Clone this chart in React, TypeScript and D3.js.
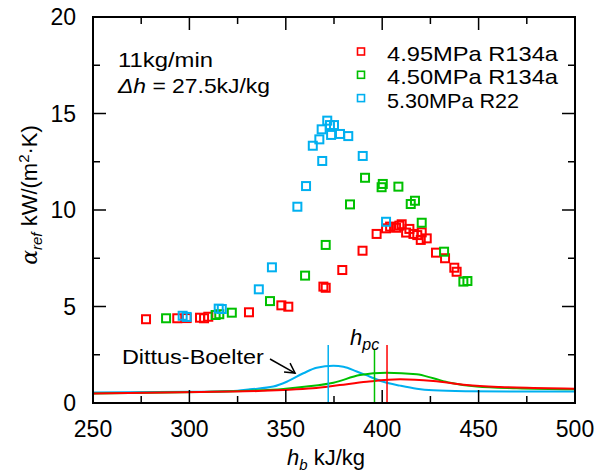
import React from 'react';
import * as d3 from 'd3';

// measured points, [h_b kJ/kg, alpha kW/(m2K)]
const red495: [number, number][] = [
  [277.5, 4.34], [293.7, 4.39], [298.6, 4.4], [305.5, 4.42], [307.6, 4.39], [309.8, 4.47],
  [330.9, 4.7], [347.7, 5.06], [351.3, 4.99], [369.5, 6.03], [370.7, 5.97], [379.3, 6.89],
  [389.8, 7.89], [397.1, 8.76], [402, 9.05], [404.1, 9.14], [407.2, 9.08], [408.9, 9.19],
  [410.1, 9.26], [412.4, 8.83], [414.1, 9.02], [416.2, 8.76], [418.2, 8.7], [420.5, 8.84],
  [420, 8.45], [423.1, 8.53], [427.9, 7.79], [432.6, 7.5], [437.4, 7.01], [438.6, 6.8],
];
const green450: [number, number][] = [
  [287.9, 4.39], [313.6, 4.56], [315.5, 4.6], [322, 4.68], [341.8, 5.28], [360, 6.6],
  [370.7, 8.19], [383.3, 10.29], [391.1, 11.67], [400.3, 11.35], [399.7, 11.18], [408.4, 11.21],
  [417, 10.48], [414.8, 10.31], [420.5, 9.34], [432.1, 7.84], [442.1, 6.29], [444.2, 6.32],
];
const blue530: [number, number][] = [
  [296.5, 4.52], [298.6, 4.46], [315.2, 4.89], [316.8, 4.87], [336, 5.89], [342.8, 7.03],
  [356, 10.17], [360.5, 11.24], [364, 13.33], [367.4, 13.66], [368.6, 14.18], [368.9, 12.54],
  [371.5, 14.63], [372.9, 14.4], [375, 14.4], [373.5, 13.89], [378.1, 13.94], [382.4, 13.83],
  [389.9, 12.8], [402, 9.39],
];

// Dittus-Boelter curves
const dbBlue: [number, number][] = [
  [250, 0.55], [300, 0.58], [325, 0.64], [331.4, 0.71], [343.5, 0.85], [350.5, 1.1],
  [359.1, 1.54], [366, 1.83], [374.7, 1.93], [379.9, 1.88], [386.8, 1.63], [393.7, 1.36],
  [400.6, 1.1], [409.3, 0.9], [417.9, 0.74], [426.5, 0.66], [443.8, 0.61], [470, 0.59], [500, 0.59],
];
const dbGreen: [number, number][] = [
  [250, 0.49], [305.5, 0.57], [331.4, 0.64], [348.7, 0.73], [360.8, 0.85], [374.7, 1.05],
  [388.5, 1.45], [402.3, 1.57], [417.9, 1.49], [426.5, 1.28], [435.2, 1.05], [449, 0.85],
  [469.8, 0.76], [500, 0.71],
];
const dbRed: [number, number][] = [
  [250, 0.49], [305.5, 0.57], [322.6, 0.59], [348.7, 0.67], [364, 0.76], [378, 0.93],
  [392, 1.1], [409.3, 1.23], [426.5, 1.14], [443.8, 0.93], [461, 0.83], [478.4, 0.78], [500, 0.74],
];

// pseudo-critical enthalpy markers [h, top]
const hpcLines = [
  { h: 372, top: 3.0, color: '#00b0f0' },
  { h: 396, top: 2.75, color: '#00c000' },
  { h: 402.5, top: 3.0, color: '#ff0000' },
];

const xTicks = [250, 300, 350, 400, 450, 500];
const xMinor = [275, 325, 375, 425, 475];
const yTicks = [0, 5, 10, 15, 20];
const yMinor = [2.5, 7.5, 12.5, 17.5];

const RED = '#ff0000';
const GREEN = '#00c000';
const BLUE = '#00b0f0';
const FONT = 'Liberation Sans, Arial, sans-serif';

const W = 606, H = 472;
const L = 93, R = 575, T = 17, B = 403;

export default function App() {
  const x = d3.scaleLinear().domain([250, 500]).range([L, R]);
  const y = d3.scaleLinear().domain([0, 20]).range([B, T]);
  const line = d3.line<[number, number]>().x((d) => x(d[0])).y((d) => y(d[1])).curve(d3.curveMonotoneX);

  const series = [
    { pts: red495, color: RED },
    { pts: green450, color: GREEN },
    { pts: blue530, color: BLUE },
  ];
  const legend = [
    { label: '4.95MPa R134a', color: RED },
    { label: '4.50MPa R134a', color: GREEN },
    { label: '5.30MPa R22', color: BLUE },
  ];
  const s = 8;

  return (
    <svg width={W} height={H} style={{ position: 'absolute', left: 0, top: 0, background: '#fff' }} fontFamily={FONT}>
      <defs>
        <clipPath id="plot"><rect x={L} y={T} width={R - L} height={B - T} /></clipPath>
      </defs>

      {/* Dittus-Boelter curves */}
      <g clipPath="url(#plot)" fill="none" strokeWidth={2}>
        <path d={line(dbBlue) || ''} stroke={BLUE} />
        <path d={line(dbGreen) || ''} stroke={GREEN} />
        <path d={line(dbRed) || ''} stroke={RED} />
      </g>

      {/* h_pc lines */}
      {hpcLines.map((l, i) => (
        <line key={i} x1={x(l.h)} x2={x(l.h)} y1={y(0)} y2={y(l.top)} stroke={l.color} strokeWidth={1.5} />
      ))}

      {/* data squares */}
      {series.map((sr, i) => (
        <g key={i} fill="none" stroke={sr.color} strokeWidth={2}>
          {sr.pts.map((p, j) => (
            <rect key={j} x={x(p[0]) - s / 2} y={y(p[1]) - s / 2} width={s} height={s} />
          ))}
        </g>
      ))}

      {/* ticks */}
      <g stroke="#000" strokeWidth={1.5}>
        {xTicks.map((t) => (
          <g key={'x' + t}>
            <line x1={x(t)} x2={x(t)} y1={B} y2={B - 13} />
            <line x1={x(t)} x2={x(t)} y1={T} y2={T + 13} />
          </g>
        ))}
        {xMinor.map((t) => (
          <g key={'xm' + t}>
            <line x1={x(t)} x2={x(t)} y1={B} y2={B - 7} />
            <line x1={x(t)} x2={x(t)} y1={T} y2={T + 7} />
          </g>
        ))}
        {yTicks.map((t) => (
          <g key={'y' + t}>
            <line x1={L} x2={L + 13} y1={y(t)} y2={y(t)} />
            <line x1={R} x2={R - 13} y1={y(t)} y2={y(t)} />
          </g>
        ))}
        {yMinor.map((t) => (
          <g key={'ym' + t}>
            <line x1={L} x2={L + 7} y1={y(t)} y2={y(t)} />
            <line x1={R} x2={R - 7} y1={y(t)} y2={y(t)} />
          </g>
        ))}
      </g>
      <rect x={L} y={T} width={R - L} height={B - T} fill="none" stroke="#000" strokeWidth={2} />

      {/* tick labels */}
      <g fontSize={23} fill="#000">
        {xTicks.map((t) => (
          <text key={t} x={x(t)} y={B + 34} textAnchor="middle">{t}</text>
        ))}
        {yTicks.map((t) => (
          <text key={t} x={L - 17} y={y(t) + 8} textAnchor="end">{t}</text>
        ))}
      </g>

      {/* axis titles */}
      <text x={326} y={465} textAnchor="middle" fontSize={22}>
        <tspan fontStyle="italic">h</tspan>
        <tspan fontStyle="italic" fontSize={15} dy={5}>b</tspan>
        <tspan dy={-5}> kJ/kg</tspan>
      </text>
      <text transform={`translate(37,195) rotate(-90)`} textAnchor="middle" fontSize={22}>
        <tspan fontStyle="italic" fontFamily="DejaVu Serif, serif">α</tspan>
        <tspan fontStyle="italic" fontSize={15} dy={5}>ref</tspan>
        <tspan dy={-5}> kW/(m</tspan>
        <tspan fontSize={15} dy={-8}>2</tspan>
        <tspan dy={8}>·K)</tspan>
      </text>

      {/* annotation */}
      <text x={118} y={67} fontSize={21} textLength={95} lengthAdjust="spacingAndGlyphs">11kg/min</text>
      <text x={118} y={93} fontSize={21} textLength={152} lengthAdjust="spacingAndGlyphs">
        <tspan fontStyle="italic">Δh</tspan> = 27.5kJ/kg
      </text>

      {/* legend */}
      {legend.map((d, i) => (
        <g key={i}>
          <rect x={361 - 3.5} y={51.5 + i * 23.3 - 3.5} width={7} height={7} fill="none" stroke={d.color} strokeWidth={1.6} />
          <text x={387} y={60.5 + i * 23.5} fontSize={21} textLength={d.label.length === 13 ? 171 : 132} lengthAdjust="spacingAndGlyphs">{d.label}</text>
        </g>
      ))}

      {/* Dittus-Boelter label and arrow */}
      <text x={x(265)} y={y(2.0)} fontSize={21} textLength={142} lengthAdjust="spacingAndGlyphs">Dittus-Boelter</text>
      <g stroke="#000" strokeWidth={1.5} fill="none">
        <line x1={x(341.8)} y1={y(2.28)} x2={x(354.8)} y2={y(1.55)} />
        <path d={`M${x(354.8) - 11},${y(1.55) - 1} L${x(354.8)},${y(1.55)} L${x(354.8) - 5},${y(1.55) - 10}`} />
      </g>

      {/* h_pc label */}
      <text x={x(383.3)} y={y(3.0)} fontSize={22} fontStyle="italic">
        h<tspan fontSize={16} dy={5}>pc</tspan>
      </text>
    </svg>
  );
}
